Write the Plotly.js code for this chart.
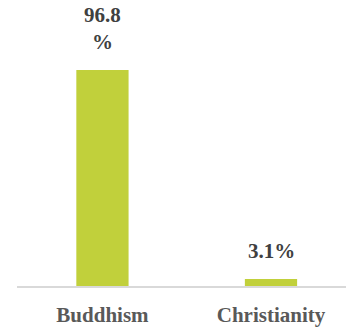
<!DOCTYPE html>
<html><head><meta charset="utf-8">
<script src="https://cdn.plot.ly/plotly-3.0.1.min.js"></script>
<style>html,body{margin:0;padding:0;background:#fff;}#chart{width:346px;height:328px;}</style>
</head><body><div id="chart"></div>
<script>
const categories = ["Buddhism", "Christianity"];
const values = [96.8, 3.1];
const valueLabels = ["96.8<br>%", "3.1%"];

const FONT = '"Liberation Serif", "Times New Roman", serif';

const annotations = categories.map((c, i) => ({
  x: c, y: values[i], xref: 'x', yref: 'y',
  text: valueLabels[i], showarrow: false,
  yanchor: 'bottom', yshift: 14,
  font: {family: FONT, size: 21, color: '#404040', weight: 'bold'}
}));

Plotly.newPlot('chart', [{
  type: 'bar', x: categories, y: values,
  marker: {color: '#c1d03b'}, hoverinfo: 'none'
}], {
  width: 346, height: 328,
  margin: {l: 17, r: 0, t: 0, b: 42},
  paper_bgcolor: '#fff', plot_bgcolor: '#fff',
  bargap: 0.69,
  showlegend: false,
  xaxis: {range: [-0.507, 1.445], showline: true, linecolor: '#d9d9d9', linewidth: 1.5,
    ticks: '', ticklabelstandoff: 9,
    tickfont: {family: FONT, size: 21, color: '#595959', weight: 'bold'},
    showgrid: false, zeroline: false, fixedrange: true},
  yaxis: {range: [0, 128.2], visible: false, showgrid: false, zeroline: false, fixedrange: true},
  annotations: annotations
}, {displayModeBar: false, staticPlot: true});
</script></body></html>
